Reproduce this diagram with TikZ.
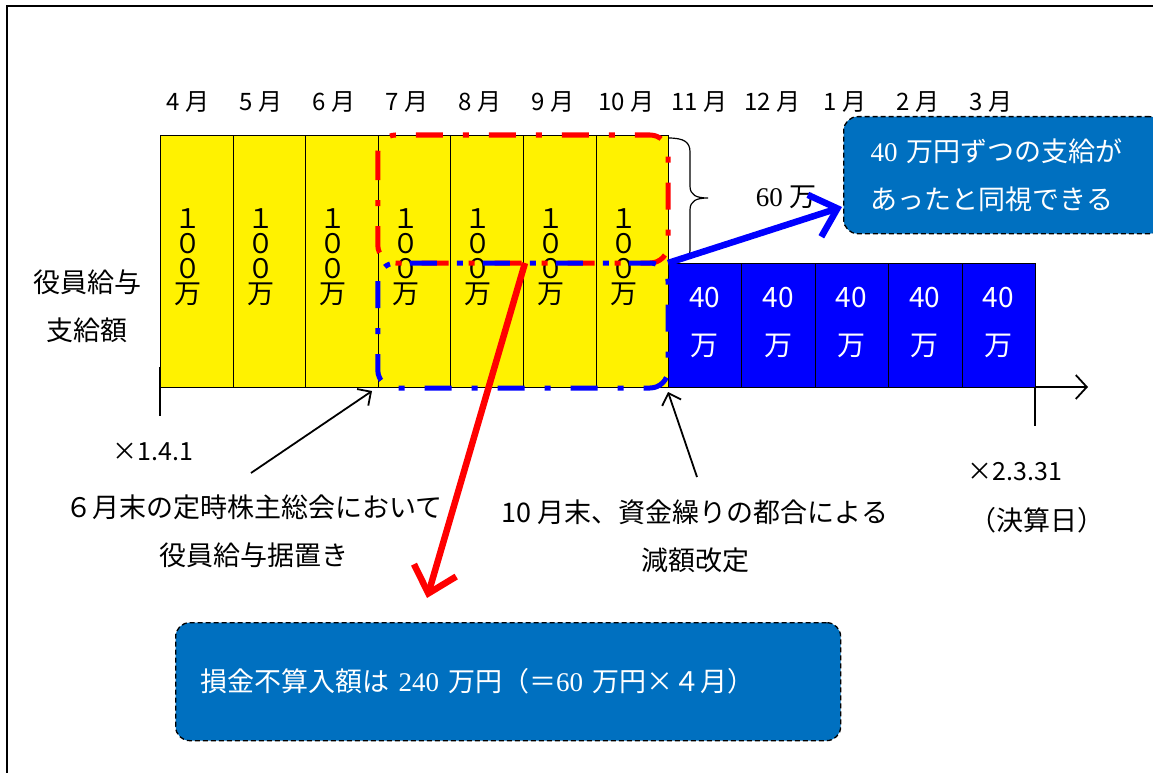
\documentclass[tikz,border=0pt]{standalone}
\usepackage{fontspec}
\setmainfont{Liberation Serif}
\newfontfamily\jpfont{Noto Sans CJK JP}
\usetikzlibrary{arrows.meta}

\definecolor{boxblue}{HTML}{0070C0}

\begin{document}
\begin{tikzpicture}[
  x=1pt, y=-1pt,
  every node/.style={inner sep=1pt, font=\jpfont\fontsize{27}{48}\selectfont},
  month/.style={font=\jpfont\fontsize{24}{24}\selectfont},
  ybar/.style={draw, line width=1pt, fill=yellow, anchor=north west,
    minimum width=72.6pt, minimum height=252pt},
  bbar/.style={draw, line width=1pt, fill=blue, anchor=north west,
    minimum width=73.4pt, minimum height=124pt},
  ytext/.style={align=center, font=\jpfont\fontsize{27}{25}\selectfont},
  btext/.style={align=center, text=white, font=\jpfont\fontsize{28}{48}\selectfont},
  dashdot/.style={line width=5pt, rounded corners=18pt,
    dash pattern=on 27pt off 20pt on 6pt off 20pt},
  callout/.style={draw, fill=boxblue, text=white, align=left, rounded corners=14pt,
    line width=1.3pt, dash pattern=on 5pt off 3pt},
  thin arrow/.style={line width=1.8pt, -{Straight Barb[length=10pt,width=20pt]}},
  fat arrow/.style={line width=6.5pt, -{Straight Barb[length=24pt,width=44pt]}}
]
\clip (0,0) rectangle (1153,773);
\draw[line width=2pt] (7,790) -- (7,6) -- (1170,6);

% time axis
\coordinate (t0) at (160,387);
\coordinate (t1) at (1088,387);
\draw[line width=1.8pt, -{Straight Barb[length=11pt,width=24pt]}] (t0) -- (t1);
\draw[line width=1.8pt] (160,367) -- (160,416);
\draw[line width=1.8pt] (1035,387) -- (1035,426);

% months
\foreach \m [count=\i from 0] in {4,5,6,7,8,9,10,11,12,1,2,3}
  \node[month] (m\m) at ({188+73*\i},102) {\m{} 月};

% payments
\foreach \i in {1,...,7}
  \node[ybar] (y\i) at ({160+72.6*(\i-1)},135) {};
\foreach \i in {1,...,5}
  \node[bbar] (b\i) at ({668+73.4*(\i-1)},263) {};
\foreach \i in {1,...,7}
  \node[ytext] (yt\i) at ({160+72.6*(\i-1)+28},257) {１\\０\\０\\万};
\foreach \i in {1,...,5}
  \node[btext] (bt\i) at ({668+73.4*(\i-1)+36.7},322) {40\\万};

\draw[red, dashdot] (y4.north west) rectangle (b1.north west);
\draw[blue, dashdot] (y4.west |- b1.north) rectangle (b1.south west);

% brace
\draw[line width=1.2pt] (668,138) .. controls (684,138) and (690,142) .. (690,152)
  -- (690,186) .. controls (690,195) and (696,198) .. (708,198)
  .. controls (696,198) and (690,201) .. (690,210)
  -- (690,250) .. controls (690,258) and (684,262) .. (668,262);
\node (sixty) at (786,197) {{\rmfamily 60} 万};

% labels
\node[align=center] (pay) at (87,306) {役員給与\\支給額};
\node[font=\jpfont\fontsize{25}{25}\selectfont] (open) at (153,452) {×1.4.1};
\node[font=\jpfont\fontsize{25}{25}\selectfont] (close) at (1015,472) {×2.3.31};
\node (closing) at (1037,520) {（決算日）};
\node[align=center] (june) at (254,531) {６月末の定時株主総会において\\役員給与据置き};
\node[align=center] (oct) at (695,536) {10 月末、資金繰りの都合による\\減額改定};

% callouts
\node[callout, anchor=north west, minimum height=117pt, text width=266pt,
  inner xsep=27pt] (c1) at (843,116)
  {{\rmfamily 40} 万円ずつの支給が\\あったと同視できる};
\node[callout, anchor=north west, minimum height=118pt, text width=615pt,
  inner xsep=25pt] (c2) at (175,622)
  {損金不算入額は {\rmfamily 240} 万円（＝{\rmfamily 60} 万円×４月）};

% arrows
\coordinate (a1) at (251,473);
\coordinate (a1t) at (372,391);
\coordinate (a2) at (697,477);
\coordinate (a2t) at (668,392);
\coordinate (r0) at (525,263);
\coordinate (r1) at (427,598);
\coordinate (c1t) at (842,207);
\draw[thin arrow] (a1) -- (a1t);
\draw[thin arrow] (a2) -- (a2t);
\draw[red, fat arrow] (r0) -- (r1);
\draw[blue, fat arrow] (b1.north west) -- (c1t);
\end{tikzpicture}
\end{document}
